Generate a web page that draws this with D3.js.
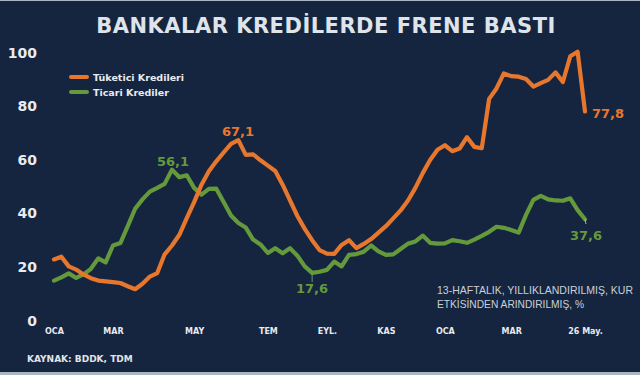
<!DOCTYPE html>
<html>
<head>
<meta charset="utf-8">
<script src="https://cdn.jsdelivr.net/npm/d3@7/dist/d3.min.js"></script>
<style>
  body { margin: 0; background: #15253f; }
  svg { display: block; }
  .tick text { font-family: "DejaVu Sans", Verdana, sans-serif; font-weight: bold; }
</style>
</head>
<body>
<svg id="chart" width="640" height="375"></svg>
<script>
// weekly readings, OCA -> 26 May. (73 weeks)
var tuketici = [22.6, 23.6, 20, 18.8, 17, 15.6, 14.7, 14.4, 14.1, 13.8, 12.6, 11.5, 13.5, 16.2, 17.5,
    24.5, 27.8, 31.8, 38, 44, 50.5, 55.5, 59.2, 62.5, 65.7, 67.1, 61.6, 61.8, 59.6, 57.6,
    55.6, 50.5, 44.6, 38.8, 34, 29.8, 26.1, 24.8, 24.7, 28, 29.8, 26.8, 28.4, 30.2, 32.6,
    35, 37.9, 40.9, 44.6, 49.3, 54.8, 59.7, 63.5, 65.2, 63, 64, 68.2, 64.6, 64.1, 82.5,
    86.4, 92, 91, 90.8, 89.9, 87.1, 88.4, 89.6, 92.4, 88.8, 98.4, 100.1, 77.8];
var ticari = [14.7, 15.9, 17.4, 15.7, 17, 19.1, 23, 21.5, 27.8, 28.7, 35, 41.5, 45, 47.9, 49.3,
    50.8, 56.1, 53.3, 54, 49.3, 46.8, 48.9, 49, 44, 39, 36.2, 34.5, 30, 28.2, 25,
    26.8, 24.9, 26.8, 24, 20, 17.6, 18, 18.7, 21.8, 20, 24.3, 24.6, 25.5, 27.8, 25.6,
    24.3, 24.5, 26.5, 28.5, 29.3, 31.5, 28.8, 28.5, 28.6, 29.8, 29.4, 28.8, 30, 31.4, 32.9,
    34.8, 34.4, 33.6, 32.6, 39.2, 44.8, 46.3, 45, 44.6, 44.5, 45.4, 41, 37.6];
var seriesNames = ["Tüketici Kredileri", "Ticari Krediler"];
var monthLabels = ["OCA", "MAR", "MAY", "TEM", "EYL.", "KAS", "OCA", "MAR", "26 May."];
var monthWeeks = [0, 8, 19, 29, 37, 45, 53, 62, 72];
var yTicks = [0, 20, 40, 60, 80, 100];
// value callouts: [series, week index]
var callouts = [[0, 25], [1, 16], [1, 35], [0, 72], [1, 72]];

var colors = ["#e8772e", "#64993c"];
var svg = d3.select("#chart");
var fontFam = "'DejaVu Sans', Verdana, sans-serif";

// frame
svg.append("rect").attr("width", 640).attr("height", 375).attr("fill", "#aab6c4");
svg.append("rect").attr("y", 1).attr("width", 640).attr("height", 371).attr("fill", "#15253f");

var x = d3.scaleLinear().domain([0, tuketici.length - 1]).range([54, 585]);
var y = d3.scaleLinear().domain([0, 100]).range([320, 52]);

svg.append("text")
    .attr("x", 326).attr("y", 33)
    .attr("text-anchor", "middle")
    .attr("font-family", fontFam).attr("font-weight", "bold")
    .attr("font-size", 21).attr("letter-spacing", 0.5).attr("fill", "#dfe4ea")
    .text("BANKALAR KREDİLERDE FRENE BASTI");

// axes
var yAxis = svg.append("g").attr("transform", "translate(40,0)")
    .call(d3.axisLeft(y).tickValues(yTicks).tickSize(0).tickPadding(3));
yAxis.select(".domain").remove();
yAxis.selectAll("text").attr("font-size", 14).attr("fill", "#e8ebf0").attr("dy", "0.36em");

var xAxis = svg.append("g").attr("transform", "translate(0,320)")
    .call(d3.axisBottom(x).tickValues(monthWeeks).tickSize(0).tickPadding(8)
        .tickFormat(function(d, i) { return monthLabels[i]; }));
xAxis.select(".domain").remove();
xAxis.selectAll("text").attr("font-size", 8).attr("fill", "#e8ebf0");

// lines, orange drawn last so it sits on top
var line = d3.line().x(function(d, i) { return x(i); }).y(function(d) { return y(d); });
[ticari, tuketici].forEach(function(s) {
    svg.append("path").datum(s)
	.attr("d", line)
	.attr("fill", "none")
	.attr("stroke", s === tuketici ? colors[0] : colors[1])
	.attr("stroke-width", 4.2)
	.attr("stroke-linejoin", "round")
	.attr("stroke-linecap", "round");
});

// legend
seriesNames.forEach(function(n, k) {
    var ly = 77 + k * 15;
    svg.append("line").attr("x1", 71).attr("x2", 87).attr("y1", ly).attr("y2", ly)
	.attr("stroke", colors[k]).attr("stroke-width", 4).attr("stroke-linecap", "round");
    svg.append("text").attr("x", 93).attr("y", ly + 3.5)
	.attr("font-family", fontFam).attr("font-weight", "bold")
	.attr("font-size", 9.5).attr("fill", "#e8ebf0")
	.text(n);
});

// callouts
var data = [tuketici, ticari];
var fmt = function(v) { return d3.format(".1f")(v).replace(".", ","); };
var calloutPos = { "0-25": [238, 136, "middle"], "1-16": [173, 166, "middle"], "1-35": [312, 293, "middle"],
    "0-72": [592, 118, "start"], "1-72": [586, 240, "middle"] };
callouts.forEach(function(c) {
    var v = data[c[0]][c[1]];
    var p = calloutPos[c[0] + "-" + c[1]];
    svg.append("text").attr("x", p[0]).attr("y", p[1])
	.attr("text-anchor", p[2])
	.attr("font-family", fontFam).attr("font-weight", "bold")
	.attr("font-size", 13).attr("fill", colors[c[0]])
	.text(fmt(v));
});
// thin leader ticks
svg.append("line").attr("x1", x(35)).attr("x2", x(35)).attr("y1", y(ticari[35]) + 2).attr("y2", 282)
    .attr("stroke", "#8fb07a").attr("stroke-width", 0.8);
svg.append("line").attr("x1", x(72)).attr("x2", x(72) + 1).attr("y1", y(ticari[72])).attr("y2", 224)
    .attr("stroke", "#c9d6c0").attr("stroke-width", 0.8);

// note
["13-HAFTALIK, YILLIKLANDIRILMIŞ, KUR", "ETKİSİNDEN ARINDIRILMIŞ, %"].forEach(function(t, i) {
    svg.append("text").attr("x", 437).attr("y", 294 + i * 13.5)
	.attr("font-family", "'Liberation Sans', Arial, sans-serif")
	.attr("font-size", 10.5).attr("fill", "#c9d0da")
	.attr("textLength", i == 0 ? 196 : 147).attr("lengthAdjust", "spacingAndGlyphs")
	.text(t);
});

svg.append("text").attr("x", 27).attr("y", 362)
    .attr("font-family", fontFam).attr("font-weight", "bold")
    .attr("font-size", 9).attr("fill", "#e0e4ea")
    .text("KAYNAK: BDDK, TDM");
</script>
</body>
</html>
